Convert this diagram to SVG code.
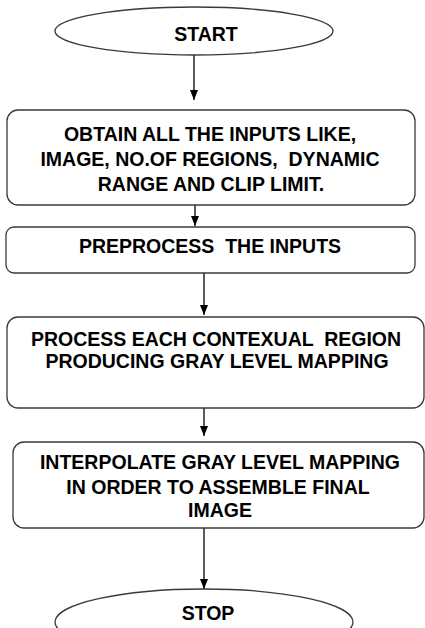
<svg xmlns="http://www.w3.org/2000/svg" width="425" height="628" viewBox="0 0 425 628">
<style>
.shape{fill:#fff;stroke:#3a3a3a;stroke-width:1.3}
.t{font-family:"Liberation Sans",Arial,sans-serif;font-weight:bold;font-size:19.5px;fill:#000;text-anchor:middle;white-space:pre}
.c{stroke:#000;stroke-width:1.3;fill:none}
</style>
<defs>
<marker id="ah" viewBox="0 0 10 10" refX="10" refY="5" markerWidth="10" markerHeight="10" markerUnits="userSpaceOnUse" orient="auto">
<path d="M0,1 L10,5 L0,9 Z" fill="#000"/>
</marker>
</defs>
<rect width="425" height="628" fill="#fff"/>
<g id="connectors">
<line class="c" x1="194" y1="55" x2="194" y2="100" marker-end="url(#ah)"/>
<line class="c" x1="195" y1="205" x2="195" y2="226" marker-end="url(#ah)"/>
<line class="c" x1="204" y1="273" x2="204" y2="315" marker-end="url(#ah)"/>
<line class="c" x1="204" y1="408" x2="204" y2="436" marker-end="url(#ah)"/>
<line class="c" x1="204" y1="528" x2="204" y2="589" marker-end="url(#ah)"/>
</g>
<g id="start">
<ellipse class="shape" cx="194" cy="31" rx="139" ry="24"/>
<text class="t" x="206" y="41">START</text>
</g>
<g id="obtain">
<rect class="shape" x="7" y="110" width="408" height="95" rx="11"/>
<text class="t" x="210" y="141">OBTAIN ALL THE INPUTS LIKE,</text>
<text class="t" x="210" y="166">IMAGE, NO.OF REGIONS,  DYNAMIC</text>
<text class="t" x="211" y="191">RANGE AND CLIP LIMIT.</text>
</g>
<g id="preprocess">
<rect class="shape" x="6" y="227" width="409" height="46" rx="8"/>
<text class="t" x="210" y="253">PREPROCESS  THE INPUTS</text>
</g>
<g id="process">
<rect class="shape" x="7" y="317" width="417" height="91" rx="11"/>
<text class="t" x="216" y="346">PROCESS EACH CONTEXUAL  REGION</text>
<text class="t" x="217" y="368">PRODUCING GRAY LEVEL MAPPING</text>
</g>
<g id="interpolate">
<rect class="shape" x="13" y="442" width="411" height="86" rx="11"/>
<text class="t" x="220" y="469">INTERPOLATE GRAY LEVEL MAPPING</text>
<text class="t" x="218" y="494">IN ORDER TO ASSEMBLE FINAL</text>
<text class="t" x="220" y="517">IMAGE</text>
</g>
<g id="stop">
<ellipse class="shape" cx="204" cy="622" rx="149" ry="33"/>
<text class="t" x="208" y="620">STOP</text>
</g>
</svg>
